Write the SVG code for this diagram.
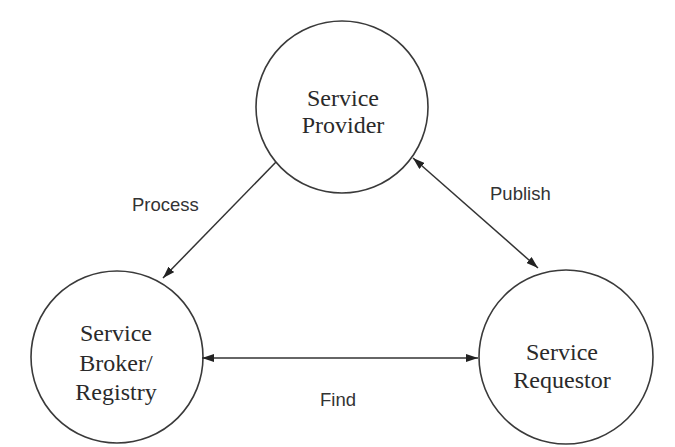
<svg xmlns="http://www.w3.org/2000/svg" width="675" height="447" viewBox="0 0 675 447">
  <style>
    .node circle { fill: none; stroke: #3a3a3a; stroke-width: 1.6; }
    .node text { font-family: "Liberation Serif", "Times New Roman", serif; font-size: 24px; fill: #2a2a2a; text-anchor: middle; }
    .edge { stroke: #333; stroke-width: 1.5; fill: none; }
    .label { font-family: "Liberation Sans", Arial, sans-serif; font-size: 18.5px; fill: #333; }
  </style>
  <defs>
    <marker id="head" viewBox="0 0 12 8" refX="12" refY="4" markerWidth="12" markerHeight="8" markerUnits="userSpaceOnUse" orient="auto-start-reverse">
      <path d="M0,0 L12,4 L0,8 Z" fill="#222"/>
    </marker>
  </defs>
  <rect width="675" height="447" fill="#ffffff"/>

  <g id="service-provider" class="node">
    <circle cx="342" cy="107" r="86"/>
    <text x="343" y="106">Service</text>
    <text x="343" y="133">Provider</text>
  </g>

  <g id="service-broker" class="node">
    <circle cx="117" cy="357" r="86"/>
    <text x="116" y="341">Service</text>
    <text x="116" y="371">Broker/</text>
    <text x="116" y="400">Registry</text>
  </g>

  <g id="service-requestor" class="node">
    <circle cx="566" cy="357" r="87"/>
    <text x="562" y="360">Service</text>
    <text x="562" y="388">Requestor</text>
  </g>

  <g id="connectors">
    <line class="edge" x1="276" y1="162" x2="163" y2="278" marker-end="url(#head)"/>
    <line class="edge" x1="413" y1="158" x2="538" y2="268" marker-start="url(#head)" marker-end="url(#head)"/>
    <line class="edge" x1="202" y1="358" x2="478" y2="358" marker-start="url(#head)" marker-end="url(#head)"/>
    <text class="label" x="132" y="211">Process</text>
    <text class="label" x="490" y="200">Publish</text>
    <text class="label" x="320" y="406">Find</text>
  </g>
</svg>
